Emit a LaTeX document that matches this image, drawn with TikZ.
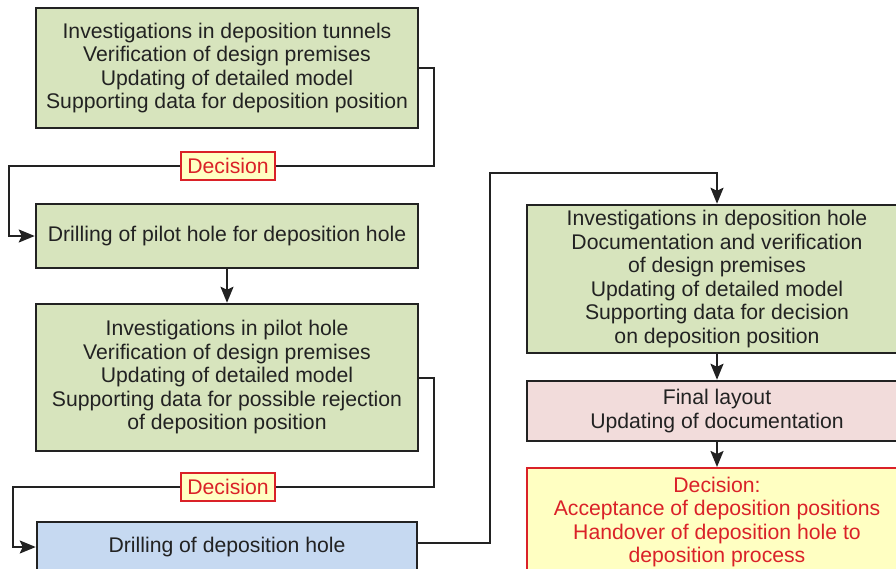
\documentclass[tikz,border=0pt]{standalone}
\usepackage{fontspec}
\setmainfont{Liberation Sans}
\usetikzlibrary{arrows.meta}
\definecolor{boxgreen}{HTML}{D7E4BD}
\definecolor{boxblue}{HTML}{C6D9F1}
\definecolor{boxpink}{HTML}{F2DCDB}
\definecolor{boxyellow}{HTML}{FFFFC2}
\definecolor{decred}{HTML}{DA2128}
\definecolor{ink}{HTML}{222222}
\begin{document}
\begin{tikzpicture}[x = 1pt, y = -1pt,
                   box/.style = {draw = ink, line width = 2.5pt, text = ink, align = center,
                                 font = \fontsize{21.2}{23.5}\selectfont, inner sep = 0pt},
                   decbox/.style = {draw = decred, line width = 2pt, fill = boxyellow, text = decred,
                                    font = \fontsize{21.2}{23.5}\selectfont, inner xsep = 5pt,
                                    minimum height = 28, minimum width = 94},
                   conn/.style = {draw = ink, line width = 2pt},
                   arr/.style = {conn, -{Stealth[length = 16pt, width = 13pt, inset = 3pt]}}]
                   \useasboundingbox (0,0) rectangle (896,568);
                   \clip (0,0) rectangle (896,568);

                   % left column
                   \node[box, fill = boxgreen, minimum width = 382, minimum height = 120] (tunnels) at (227,68)
                        {Investigations in deposition tunnels\\Verification of design premises\\Updating of detailed model\\Supporting data for deposition position};
                   \node[box, fill = boxgreen, minimum width = 382, minimum height = 64] (pilot) at (227,236)
                        {Drilling of pilot hole for deposition hole};
                   \node[box, fill = boxgreen, minimum width = 382, minimum height = 147] (pilotinv) at (227,377.5)
                        {Investigations in pilot hole\\Verification of design premises\\Updating of detailed model\\Supporting data for possible rejection\\of deposition position};
                   \node[box, fill = boxblue, minimum width = 380, minimum height = 50] (drilling) at (227,547)
                        {Drilling of deposition hole};

                   % right column
                   \node[box, fill = boxgreen, minimum width = 380, minimum height = 148] (holeinv) at (717,279)
                        {Investigations in deposition hole\\Documentation and verification\\of design premises\\Updating of detailed model\\Supporting data for decision\\on deposition position};
                   \node[box, fill = boxpink, minimum width = 380, minimum height = 60] (layout) at (717,411)
                        {Final layout\\Updating of documentation};
                   \node[box, draw = decred, line width = 2pt, fill = boxyellow, text = decred,
                         minimum width = 380, minimum height = 108] (accept) at (717,522)
                        {Decision:\\Acceptance of deposition positions\\Handover of deposition hole to\\deposition process};

                   % decisions
                   \node[decbox] (dec1) at (228,166) {Decision};
                   \node[decbox] (dec2) at (228,487) {Decision};

                   % connectors
                   \draw[conn] (tunnels.east) -- ++(15,0) |- (dec1.east);
                   \draw[arr]  (dec1.west) -| ([xshift = -26pt]pilot.west) -- (pilot.west);
                   \draw[arr]  (pilot.south) -- (pilotinv.north);
                   \draw[conn] (pilotinv.east) -- ++(15,0) |- (dec2.east);
                   \draw[arr]  (dec2.west) -| ([xshift = -23pt]drilling.west) -- (drilling.west);
                   \draw[arr]  ([yshift = 4pt]drilling.east) -- ++(72,0) |- ([yshift = 31pt]holeinv.north) -- (holeinv.north);
                   \draw[arr]  (holeinv.south) -- (layout.north);
                   \draw[arr]  (layout.south) -- (accept.north);
        \end{tikzpicture}
\end{document}
